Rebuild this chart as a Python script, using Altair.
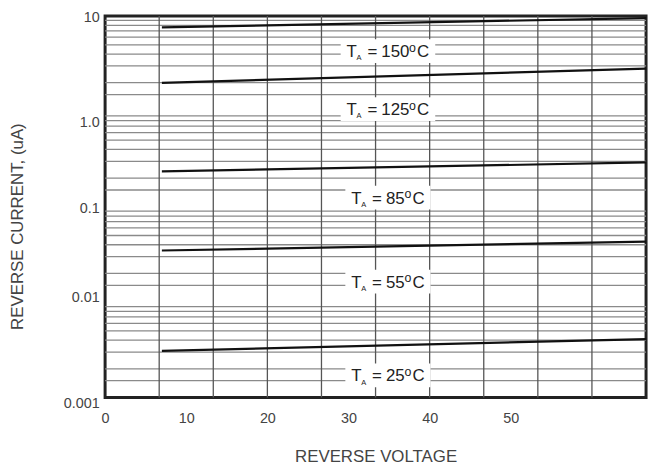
import altair as alt
import pandas as pd

# ---- data ----
temps = ["150", "125", "85", "55", "25"]
v_start = [7.0, 7.0, 7.0, 7.0, 7.0]
v_end = [66.67, 66.67, 66.67, 66.67, 66.67]
i_start = [7.60, 1.995, 0.235, 0.0348, 0.00308]
i_end = [9.53, 2.81, 0.292, 0.0431, 0.00410]

label_v = [34.86, 34.86, 34.86, 34.86, 34.86]
label_i = [4.30, 1.059, 0.1249, 0.0164, 0.001706]

x_tick_values = [0, 10, 20, 30, 40, 50]
x_grid_values = [6.667, 13.333, 20.0, 26.667, 33.333, 40.0, 46.667, 53.333, 60.0]
y_tick_values = [10, 1, 0.1, 0.01, 0.001]
y_tick_text = ["10", "1.0", "0.1", "0.01", "0.001"]
y_label_shift = [1.5, 11, 1.5, -5, 6]
y_grid_values = [
    0.0015, 0.002, 0.003, 0.004, 0.005, 0.006, 0.007, 0.008, 0.009,
    0.015, 0.02, 0.03, 0.04, 0.05, 0.06, 0.07, 0.08, 0.09,
    0.15, 0.2, 0.3, 0.4, 0.5, 0.6, 0.7, 0.8, 0.9,
    1.5, 2, 3, 4, 5, 6, 7, 8, 9,
]

FONT = "Liberation Sans"
TXT = "#444444"

# ---- tables ----
rows = []
for t, v0, v1, a, b in zip(temps, v_start, v_end, i_start, i_end):
    rows.append({"temp": t, "V": v0, "I": a})
    rows.append({"temp": t, "V": v1, "I": b})
lines_df = pd.DataFrame(rows)

box_rows = []
part_rows = []
for t, lv, li in zip(temps, label_v, label_i):
    n = len(t)
    numw = 9.45 * n
    num_x = 35
    total = num_x + numw + 7.8 + 12.3
    L = -total / 2
    box_rows.append({"V": lv, "I": li, "w": total + 12})
    parts = [
        ("T", 17, L, 6),
        ("A", 7.5, L + 10, 9.4),
        ("=", 17, L + 21, 6),
        (t, 17, L + num_x, 6),
        ("o", 12.5, L + num_x + numw - 0.3, 0.5),
        ("C", 17, L + num_x + numw + 7.8, 6),
    ]
    for txt, fs, dx, dy in parts:
        part_rows.append({"V": lv, "I": li, "txt": txt, "fs": fs, "dx": dx, "dy": dy})
box_df = pd.DataFrame(box_rows)
parts_df = pd.DataFrame(part_rows)

xs = alt.Scale(domain=[0, 66.67], nice=False, zero=False)
ys = alt.Scale(type="log", domain=[0.001, 10], nice=False)

label_expr = " : ".join(
    f"datum.value == {v} ? '{s}'" for v, s in zip(y_tick_values, y_tick_text)
) + " : ''"

offset_cond = {
    "condition": [
        {"test": f"datum.value == {v}", "value": s}
        for v, s in zip(y_tick_values[:-1], y_label_shift[:-1])
    ],
    "value": y_label_shift[-1],
}

x_axis = alt.Axis(
    values=x_tick_values, title="REVERSE VOLTAGE", grid=False, ticks=False,
    tickSize=0, domain=False, labelPadding=14, labelFontSize=14.5, labelFont=FONT,
    labelColor=TXT, labelFontWeight="normal", titleFont=FONT, titleFontSize=17,
    titleFontWeight="normal", titleColor=TXT, titleY=52, titleBaseline="top",
    labelFlush=False, labelOverlap=False, format="d",
)
y_axis = alt.Axis(
    values=y_tick_values, labelExpr=label_expr, labelOffset=offset_cond,
    title="REVERSE CURRENT, (uA)", grid=False, ticks=False, tickSize=0,
    domain=False, labelPadding=6, labelFontSize=14.5, labelFont=FONT,
    labelColor=TXT, labelFontWeight="normal", titleFont=FONT, titleFontSize=17,
    titleFontWeight="normal", titleColor=TXT, titleAngle=270, titleX=-88,
    titleY=212, titleAlign="center", titleBaseline="middle", labelFlush=False,
    labelOverlap=False,
)

X = alt.X("V:Q", scale=xs, axis=x_axis, title="REVERSE VOLTAGE")
Y = alt.Y("I:Q", scale=ys, axis=y_axis, title="REVERSE CURRENT, (uA)")

hgrid = alt.Chart(pd.DataFrame({"I": y_grid_values})).mark_rule(
    color="#8a8a8a", strokeWidth=1.3
).encode(y=Y)

vgrid = alt.Chart(pd.DataFrame({"V": x_grid_values})).mark_rule(
    color="#555555", strokeWidth=1.3
).encode(x=X)

boxes = alt.Chart(box_df).mark_rect(
    color="white",
    xOffset={"expr": "-datum.w/2"},
    x2Offset={"expr": "datum.w/2"},
    yOffset=-12,
    y2Offset=12,
).encode(x=X, x2="V:Q", y=Y, y2="I:Q")

lines = alt.Chart(lines_df).mark_line(color="#111111", strokeWidth=2.2).encode(
    x=X, y=Y, detail="temp:N",
)

texts = alt.Chart(parts_df).mark_text(
    align="left", baseline="alphabetic", font=FONT, color="#222222",
    dx={"expr": "datum.dx"}, dy={"expr": "datum.dy"},
).encode(
    x=X, y=Y,
    text="txt:N",
    size=alt.Size("fs:Q", scale=None, legend=None),
)

chart = alt.layer(hgrid, vgrid, boxes, lines, texts).properties(
    width=546, height=385,
    autosize=alt.AutoSizeParams(type="none"),
    padding={"left": 98, "top": 6, "right": 6, "bottom": 70},
).configure_view(stroke="#222222", strokeWidth=3)

chart.save("out.html", embed_options={"renderer": "svg", "actions": False})
